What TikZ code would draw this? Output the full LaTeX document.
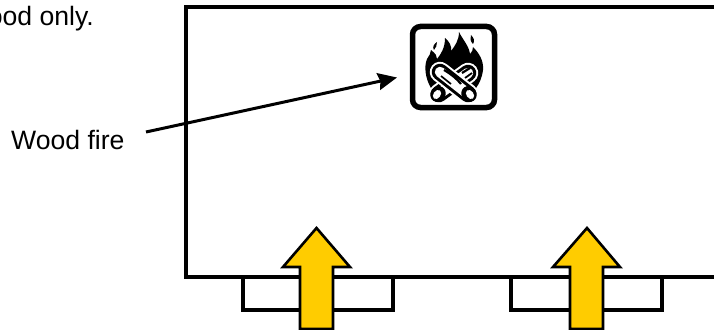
\documentclass[tikz,border=0pt]{standalone}
\usepackage{fontspec}
\setmainfont{Liberation Sans}
\usetikzlibrary{arrows.meta}
\definecolor{flowyellow}{HTML}{FFCC00}
\tikzset{
  x=1pt,y=-1pt,
  wall/.style={draw=black,line width=3.8pt,miter limit=10},
  port/.style={draw=black,line width=3.2pt},
  airflow/.style={draw=black,fill=flowyellow,line width=2.6pt,line join=miter},
  caption/.style={font=\fontsize{26.6}{30}\selectfont,inner sep=0pt},
  pointer/.style={draw=black,line width=3pt,-{Stealth[length=19pt,width=17pt,inset=2pt]}},
  iconframe/.style={draw=black,line width=5.5pt,rounded corners=8pt,minimum width=82pt,minimum height=81pt,inner sep=0pt,fill=white},
}
\newcommand{\fuellog}[4]{%
  \draw[white,line width=20.5pt,line cap=round] (#1,#2) -- (#3,#4);
  \draw[black,line width=16.5pt,line cap=round] (#1,#2) -- (#3,#4);
  \draw[white,line width=10.5pt,line cap=round] (#1,#2) -- (#3,#4);
}
\begin{document}
\begin{tikzpicture}
\clip (0,0) rectangle (714,329);
\fill[white] (0,0) rectangle (714,329);
% ports
\draw[port] (243,277) -- (243,310) -- (393,310) -- (393,277);
\draw[port] (511,277) -- (511,310) -- (662,310) -- (662,277);
% chamber
\draw[wall] (725,277) -- (186,277) -- (186,7) -- (725,7);
% air arrows
\draw[airflow] (316.5,228) -- (350,267) -- (333,267) -- (333,329) -- (300,329) -- (300,267) -- (283,267) -- cycle;
\draw[airflow] (587,228) -- (620,267) -- (603,267) -- (603,329) -- (570,329) -- (570,267) -- (553,267) -- cycle;
% icon
\node[iconframe] (icon) at (453.5,67) {};
% flames
\fill[black] (431,88) .. controls (425,78) and (424,66) .. (427,59)
  .. controls (429,56) and (431,53) .. (431,50)
  .. controls (436,54) and (437,56) .. (437,59)
  .. controls (441,54) and (445,48) .. (445,38)
  .. controls (449,41) and (452,46) .. (451,51)
  .. controls (455,46) and (459,40) .. (459,32)
  .. controls (463,40) and (469,46) .. (470,54)
  .. controls (472,52) and (473,50) .. (473,47)
  .. controls (478,52) and (484,60) .. (483,70)
  .. controls (482,78) and (479,84) .. (476,88) -- cycle;
\fill[black] (437,42) .. controls (434,44) and (432,47) .. (434,50) .. controls (436,48) and (437,45) .. (437,42) -- cycle;
\fill[black] (471,35) .. controls (470,38) and (470,41) .. (473,44) .. controls (475,41) and (474,38) .. (471,35) -- cycle;
% logs
\fuellog{439}{94}{468}{73}
\draw[black,line width=2.2pt] (462,73) -- (470,68);
\draw[black,line width=1.8pt] (465,78) -- (472,73);
\fill[black,rotate around={-36:(438,94)}] (438,94) ellipse (7.5 and 8.2);
\fill[white,rotate around={-36:(437,94.5)}] (437,94.5) ellipse (3.6 and 5);
\fuellog{440}{72}{468}{94}
\draw[black,line width=2.2pt] (444,70) .. controls (451,74) and (456,78) .. (461,84);
\draw[black,line width=1.7pt] (441,76) -- (451,84);
\fill[black,rotate around={36:(469,94)}] (469,94) ellipse (7.5 and 8.2);
\fill[white,rotate around={36:(470,94.5)}] (470,94.5) ellipse (3.6 and 5);
% labels
\node[caption,anchor=base east] (note) at (94,26) {ood only.};
\node[caption,anchor=base west] (woodlabel) at (11,149.5) {Wood fire};
% pointer
\coordinate (pointerstart) at (146,132);
\coordinate (pointertip) at (397,77.5);
\draw[pointer] (pointerstart) -- (pointertip);
\end{tikzpicture}
\end{document}
